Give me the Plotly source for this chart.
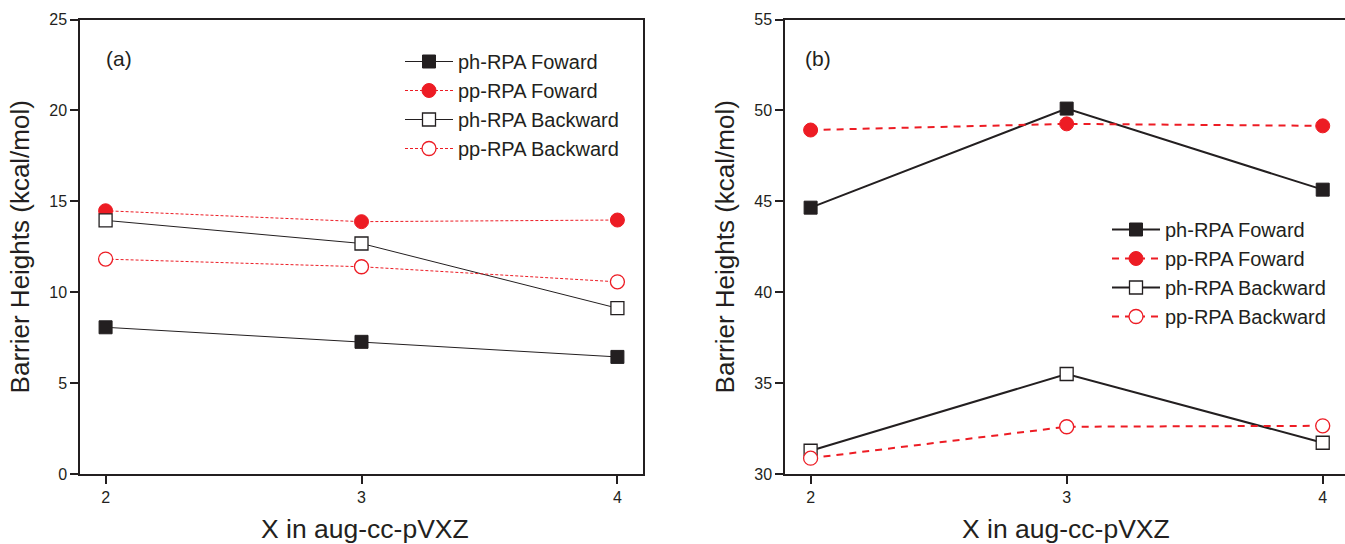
import plotly.graph_objects as go

# ---------------- data ----------------
x_basis = [2, 3, 4]
series_names = ["ph-RPA Foward", "pp-RPA Foward", "ph-RPA Backward", "pp-RPA Backward"]
x_title = "X in aug-cc-pVXZ"
y_title = "Barrier Heights (kcal/mol)"

# panel (a)
a_ph_fwd = [8.07, 7.27, 6.44]
a_pp_fwd = [14.48, 13.88, 13.97]
a_ph_bwd = [13.95, 12.68, 9.12]
a_pp_bwd = [11.82, 11.40, 10.57]

# panel (b)
b_ph_fwd = [44.65, 50.10, 45.64]
b_pp_fwd = [48.92, 49.26, 49.15]
b_ph_bwd = [31.28, 35.50, 31.72]
b_pp_bwd = [30.87, 32.60, 32.65]

y_ticks_a = [0, 5, 10, 15, 20, 25]
y_ticks_b = [30, 35, 40, 45, 50, 55]

# ---------------- style ----------------
W, H = 1345, 544
BLACK = "#231f20"
RED = "#ed1c24"
FONT = "Liberation Sans, Arial, sans-serif"

def px_x(p):
    return p / W

def px_y(p):
    return 1 - p / H

fig = go.Figure()

def add_panel(xref, yref, legend, vals, red_dash, red_w, black_w):
    ph_f, pp_f, ph_b, pp_b = vals
    specs = [
        (ph_f, dict(color=BLACK, width=black_w, dash="solid"),
         dict(symbol="square", size=13, color=BLACK, line=dict(color=BLACK, width=1))),
        (pp_f, dict(color=RED, width=red_w, dash=red_dash),
         dict(symbol="circle", size=14, color=RED, line=dict(color=RED, width=1))),
        (ph_b, dict(color=BLACK, width=black_w, dash="solid"),
         dict(symbol="square", size=13, color="white", line=dict(color=BLACK, width=1.3))),
        (pp_b, dict(color=RED, width=red_w, dash=red_dash),
         dict(symbol="circle", size=14, color="white", line=dict(color=RED, width=1.3))),
    ]
    for name, (yv, ln, mk) in zip(series_names, specs):
        fig.add_trace(go.Scatter(
            x=x_basis, y=yv, mode="lines+markers", name=name,
            line=ln, marker=mk, xaxis=xref, yaxis=yref, legend=legend,
            cliponaxis=False,
        ))

add_panel("x", "y", "legend", [a_ph_fwd, a_pp_fwd, a_ph_bwd, a_pp_bwd], "3px,2px", 1, 1)
add_panel("x2", "y2", "legend2", [b_ph_fwd, b_pp_fwd, b_ph_bwd, b_pp_bwd], "7px,6px", 2, 2)

ydom = [px_y(474), px_y(19.5)]

axis_common = dict(
    showgrid=False, zeroline=False, showline=True, linecolor=BLACK, linewidth=1.5,
    ticks="outside", ticklen=8, tickwidth=1.5, tickcolor=BLACK,
    tickfont=dict(family=FONT, size=16, color=BLACK),
    automargin=False,
)
title_font = dict(family=FONT, size=26, color=BLACK)
legend_font = dict(family=FONT, size=20, color=BLACK)

fig.update_layout(
    width=W, height=H,
    margin=dict(l=0, r=0, t=0, b=0),
    paper_bgcolor="white", plot_bgcolor="white",
    font=dict(family=FONT, color=BLACK),
    xaxis=dict(domain=[px_x(80), px_x(643)], range=[1.9, 4.1], tickvals=x_basis,
               mirror=True, anchor="y", **axis_common),
    yaxis=dict(domain=ydom, range=[0, 25], tickvals=y_ticks_a, mirror=True, anchor="x",
               title=dict(text=y_title, font=title_font, standoff=12),
               **axis_common),
    xaxis2=dict(domain=[px_x(785), 1], range=[1.9, 4.087], tickvals=x_basis,
                mirror=True, anchor="y2", **axis_common),
    yaxis2=dict(domain=ydom, range=[30, 55], tickvals=y_ticks_b, mirror=False, anchor="x2",
                title=dict(text=y_title, font=title_font, standoff=12),
                **axis_common),
    legend=dict(x=px_x(400), y=px_y(42), xanchor="left", yanchor="top",
                bgcolor="rgba(0,0,0,0)", itemwidth=48, font=legend_font),
    legend2=dict(x=px_x(1107), y=px_y(210), xanchor="left", yanchor="top",
                 bgcolor="rgba(0,0,0,0)", itemwidth=48, font=legend_font),
    showlegend=True,
    annotations=[
        dict(text="(a)", x=px_x(119), y=px_y(59), xref="paper", yref="paper",
             xanchor="center", yanchor="middle",
             showarrow=False, font=dict(family=FONT, size=21, color=BLACK)),
        dict(text="(b)", x=px_x(818), y=px_y(59), xref="paper", yref="paper",
             xanchor="center", yanchor="middle",
             showarrow=False, font=dict(family=FONT, size=21, color=BLACK)),
        dict(text=x_title, x=px_x(365), y=px_y(529), xref="paper", yref="paper",
             xanchor="center", yanchor="middle",
             showarrow=False, font=dict(family=FONT, size=26.5, color=BLACK)),
        dict(text=x_title, x=px_x(1066), y=px_y(529), xref="paper", yref="paper",
             xanchor="center", yanchor="middle",
             showarrow=False, font=dict(family=FONT, size=26.5, color=BLACK)),
    ],
)

fig.write_html(
    "out.html",
    config={"displayModeBar": False},
    post_script="document.body.style.margin='0';document.body.style.overflow='hidden';",
)
